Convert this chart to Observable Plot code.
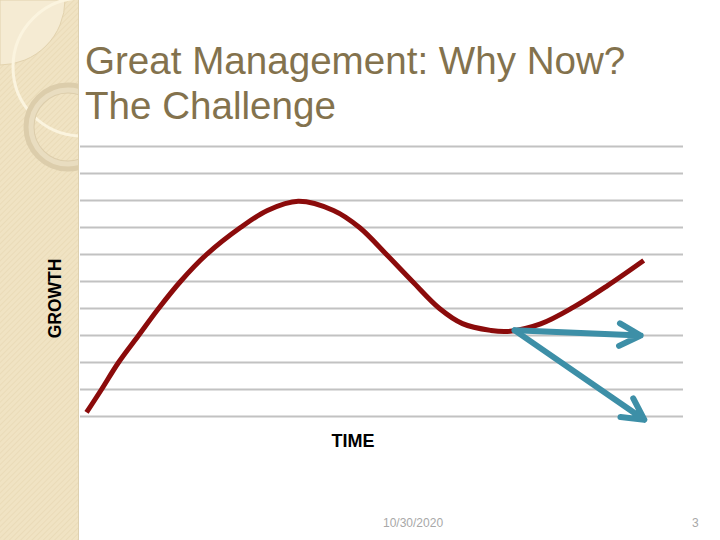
<!DOCTYPE html>
<html>
<head>
<meta charset="utf-8">
<script src="https://cdn.jsdelivr.net/npm/d3@7"></script>
<script src="https://cdn.jsdelivr.net/npm/@observablehq/plot@0.6"></script>
<style>
  html, body { margin: 0; padding: 0; background: #fff; }
  #slide { position: relative; width: 720px; height: 540px; overflow: hidden; background: #fff;
           font-family: "Liberation Sans", Arial, sans-serif; }
  #deco { position: absolute; left: 0; top: 0; }
  #title { position: absolute; left: 85px; top: 38px; font-size: 38.6px; line-height: 45px;
           color: #83724d; white-space: nowrap; }
  #chart { position: absolute; left: 0; top: 0; }
  .foot { position: absolute; top: 516px; font-size: 12px; color: #a8a8a8; }
</style>
</head>
<body>
<div id="slide">
  <svg id="deco" width="80" height="540">
    <defs>
      <pattern id="hatch" width="4" height="4" patternUnits="userSpaceOnUse" patternTransform="rotate(45)">
        <rect width="4" height="4" fill="#f0e3c3"/>
        <line x1="0" y1="0" x2="0" y2="4" stroke="#e8d9b5" stroke-width="1.5"/>
      </pattern>
      <clipPath id="strip"><rect x="0" y="0" width="79" height="540"/></clipPath>
    </defs>
    <rect x="0" y="0" width="79" height="540" fill="url(#hatch)"/>
    <g clip-path="url(#strip)">
      <path d="M0,0 L65,0 A65,65 0 0 1 0,65 Z" fill="#f5ebd3" stroke="#e2d2ad" stroke-width="1"/>
      <circle cx="82" cy="67" r="69" fill="none" stroke="#fbf4df" stroke-width="3"/>
      <circle cx="68" cy="127" r="39" fill="none" stroke="#dccdab" stroke-width="11"/>
      <circle cx="68" cy="127" r="37" fill="none" stroke="#e9ddc0" stroke-width="5"/>
    </g>
    <line x1="78.5" y1="0" x2="78.5" y2="540" stroke="#ddd0b0" stroke-width="1"/>
  </svg>
  <div id="title">Great Management: Why Now?<br>The Challenge</div>
  <div id="chart"></div>
  <div class="foot" style="left:383px;">10/30/2020</div>
  <div class="foot" style="left:692px;">3</div>
</div>
<script>
// Grid levels (horizontal ruled lines)
const gridLevels = [0, 1, 2, 3, 4, 5, 6, 7, 8, 9, 10];

// Growth curve (time, growth)
const curveTime   = [1.0, 3.48, 6.3, 9.62, 12.94, 16.58, 20.9, 26.53, 31.0, 36.1, 41.96, 46.27, 50.75, 55.06, 59.54, 63.35, 68.0, 70.8, 76.3, 81.76, 87.4, 93.4];
const curveGrowth = [0.15, 1.0, 2.0, 3.0, 4.0, 5.0, 6.0, 7.0, 7.63, 7.97, 7.63, 7.0, 6.0, 5.0, 4.0, 3.44, 3.19, 3.15, 3.43, 4.05, 4.85, 5.78];

// Two outcome arrows from the trough
const arrowStartTime   = [72.0, 72.0];
const arrowStartGrowth = [3.19, 3.19];
const arrowEndTime     = [92.9, 93.5];
const arrowEndGrowth   = [3.0, -0.12];

const xLabel = "TIME";
const yLabel = "GROWTH";

const curve = curveTime.map((t, i) => ({time: t, growth: curveGrowth[i]}));
const arrows = arrowStartTime.map((t, i) => ({
  t1: t, g1: arrowStartGrowth[i], t2: arrowEndTime[i], g2: arrowEndGrowth[i]
}));

const chart = Plot.plot({
  width: 720,
  height: 540,
  marginLeft: 80,
  marginRight: 37,
  marginTop: 146,
  marginBottom: 124,
  style: {background: "transparent", overflow: "visible", fontFamily: "Liberation Sans, Arial, sans-serif"},
  x: {domain: [0, 100], axis: null},
  y: {domain: [0, 10], axis: null},
  marks: [
    Plot.ruleY(gridLevels, {stroke: "#c2c2c2", strokeWidth: 1.8}),
    Plot.line(curve, {x: "time", y: "growth", curve: "catmull-rom", stroke: "#8b0b0b", strokeWidth: 5, strokeLinecap: "butt"}),
    Plot.arrow(arrows, {x1: "t1", y1: "g1", x2: "t2", y2: "g2", stroke: "#3d8fa7", strokeWidth: 6, headLength: 6, headAngle: 56, strokeLinecap: "round"}),
    Plot.text([xLabel], {frameAnchor: "bottom", text: d => d, dx: -29, dy: 25, fontSize: 18, fontWeight: "bold", fill: "#000", textAnchor: "middle", lineAnchor: "middle"}),
    Plot.text([yLabel], {frameAnchor: "left", text: d => d, rotate: -90, dx: -25, dy: 17, fontSize: 17.5, fontWeight: "bold", fill: "#000", textAnchor: "middle", lineAnchor: "middle"})
  ]
});
document.getElementById("chart").appendChild(chart);
</script>
</body>
</html>
